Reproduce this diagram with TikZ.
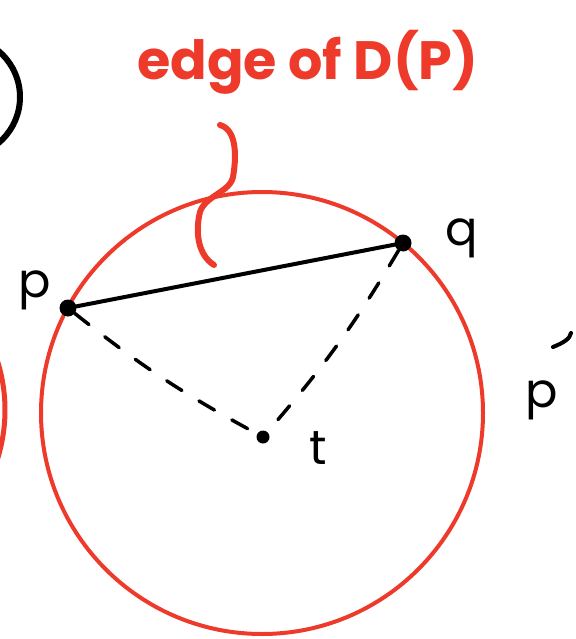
\documentclass[tikz,border=0pt]{standalone}
\usepackage{fontspec}
\setmainfont{Poppins}
\definecolor{inkred}{HTML}{EE3A2A}
\begin{document}
\begin{tikzpicture}[x=1pt,y=-1pt,
  redink/.style={draw=inkred,line cap=round,line join=round},
  blackink/.style={draw=black,line cap=round,line join=round},
  dot/.style={circle,fill=black,inner sep=0pt,minimum size=17pt},
  lbl/.style={font=\fontsize{48}{52}\selectfont,text=black,inner sep=0pt},
  dashedge/.style={blackink,line width=3.5pt,dash pattern=on 18pt off 20pt}]
\useasboundingbox (0,0) rectangle (575,639);
\clip (0,0) rectangle (575,639);
% disc
\draw[redink,line width=4pt] (262,413) circle (221);
% left fragments
\draw[blackink,line width=6pt] (-40,97) circle (60);
\draw[redink,line width=5pt] (-157.5,410) circle (162.5);
% points
\node[dot] (p) at (68,308) {};
\node[dot] (q) at (403,243) {};
\node[dot,minimum size=13pt] (t) at (263,437) {};
\draw[blackink,line width=4pt] (p) -- (q);
\draw[dashedge] (p) to[bend right=5] (t);
\draw[dashedge] (q) to[bend left=5] (t);
% labels
\node[lbl] (lp) at (35,290) {p};
\node[lbl] (lq) at (462,238) {q};
\node[lbl] (lt) at (318,448) {t};
\node[lbl] (lp2) at (542,400) {p};
\draw[blackink,line width=4pt] (553,347) .. controls (563,343) and (570,339) .. (571,333);
% brace
\draw[redink,line width=6pt] (220,125) .. controls (238,130) and (236,160) .. (233,177)
  .. controls (230,192) and (205,196) .. (200,212)
  .. controls (195,232) and (198,255) .. (214,265);
% title
\node[anchor=base west,inner sep=0pt,text=inkred,font=\fontsize{54}{58}\selectfont\bfseries] (title) at (137,80) {edge of D(P)};
\end{tikzpicture}
\end{document}
